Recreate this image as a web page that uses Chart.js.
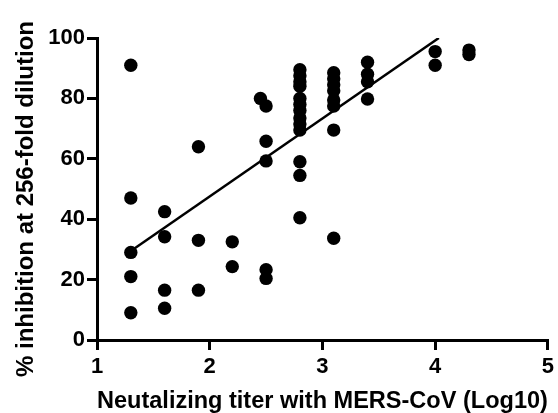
<!DOCTYPE html>
<html>
<head>
<meta charset="utf-8">
<script src="https://cdn.jsdelivr.net/npm/chart.js@4"></script>
<style>
  html, body { margin: 0; padding: 0; background: #fff; }
  #wrap { width: 558px; height: 413px; }
</style>
</head>
<body>
<div id="wrap"><canvas id="main-chart"></canvas></div>
<script>
// log10 neutralizing titer per sample
const titer = [
  1.3, 1.3, 1.3, 1.3, 1.3,
  1.6, 1.6, 1.6, 1.6,
  1.9, 1.9, 1.9,
  2.2, 2.2,
  2.45,
  2.5, 2.5, 2.5, 2.5, 2.5,
  2.8, 2.8, 2.8, 2.8, 2.8, 2.8, 2.8, 2.8, 2.8, 2.8, 2.8, 2.8, 2.8,
  3.1, 3.1, 3.1, 3.1, 3.1, 3.1, 3.1, 3.1,
  3.4, 3.4, 3.4, 3.4,
  4.0, 4.0,
  4.3, 4.3,
];

// % inhibition at 256-fold dilution, same order as titer
const inhibition = [
  91, 47, 29, 21, 9,
  42.5, 34.2, 16.5, 10.5,
  64, 33, 16.5,
  32.5, 24.3,
  80,
  77.5, 65.8, 59.3, 23.3, 20.4,
  89.5, 87.5, 85.5, 84, 80, 78, 76, 73.5, 71.5, 69.5, 59, 54.5, 40.5,
  88.5, 86.5, 84.5, 82.5, 79.5, 77.5, 69.5, 33.7,
  92, 88, 85.5, 79.8,
  95.5, 91,
  96, 94.5,
];

// linear fit, drawn from the lowest titer until it reaches the top of the axis
const fitStartX = 1.3;
const fitStartY = 29.5;
const fitSlope  = 25.8;
const yMax      = 100;

const xTicks = [1, 2, 3, 4, 5];
const yTicks = [0, 20, 40, 60, 80, 100];

const xLabel = 'Neutalizing titer with MERS-CoV (Log10)';
const yLabel = '% inhibition at 256-fold dilution';

const fitEndX = fitStartX + (yMax - fitStartY) / fitSlope;

const points = titer.map((x, i) => ({ x, y: inhibition[i] }));

const font = 'Liberation Sans, Arial, Helvetica, sans-serif';

// y title sits a bit below the middle of the axis in the original, so draw it by hand
const yTitlePlugin = {
  id: 'yTitle',
  afterDraw(chart) {
    const ctx = chart.ctx;
    ctx.save();
    ctx.translate(26, 199);
    ctx.rotate(-Math.PI / 2);
    ctx.font = 'bold 24px ' + font;
    ctx.fillStyle = '#000';
    ctx.textAlign = 'center';
    ctx.textBaseline = 'middle';
    ctx.fillText(yLabel, 0, 0);
    ctx.restore();
  },
};

const axisCommon = {
  grid: {
    drawOnChartArea: false,
    drawTicks: true,
    tickLength: 10,
    lineWidth: 3,
    color: '#000',
  },
  border: { display: true, width: 3, color: '#000' },
};

new Chart(document.getElementById('main-chart'), {
  type: 'scatter',
  data: {
    datasets: [
      {
        data: points,
        pointRadius: 6.7,
        pointHoverRadius: 6.7,
        pointBackgroundColor: '#000',
        pointBorderWidth: 0,
      },
      {
        data: [
          { x: fitStartX, y: fitStartY },
          { x: fitEndX, y: yMax },
        ],
        showLine: true,
        borderColor: '#000',
        borderWidth: 2.5,
        pointRadius: 0,
        pointHoverRadius: 0,
      },
    ],
  },
  plugins: [yTitlePlugin],
  options: {
    responsive: true,
    maintainAspectRatio: false,
    animation: false,
    layout: { padding: { top: 38, right: 9, left: 0, bottom: 0 } },
    plugins: {
      legend: { display: false },
      tooltip: { enabled: false },
    },
    scales: {
      x: {
        ...axisCommon,
        type: 'linear',
        min: 1,
        max: 5,
        afterBuildTicks: s => { s.ticks = xTicks.map(v => ({ value: v })); },
        afterFit: s => { s.height = 73; },
        ticks: {
          color: '#000',
          padding: 4,
          maxRotation: 0,
          font: { family: font, size: 22, weight: 'bold' },
        },
        title: {
          display: true,
          text: xLabel,
          color: '#000',
          padding: { top: 0, bottom: 0 },
          font: { family: font, size: 24, weight: 'bold', lineHeight: 1 },
        },
      },
      y: {
        ...axisCommon,
        type: 'linear',
        min: 0,
        max: yMax,
        afterBuildTicks: s => { s.ticks = yTicks.map(v => ({ value: v })); },
        afterFit: s => { s.width = 97; },
        ticks: {
          color: '#000',
          padding: 2,
          font: { family: font, size: 22, weight: 'bold' },
        },
      },
    },
  },
});
</script>
</body>
</html>
